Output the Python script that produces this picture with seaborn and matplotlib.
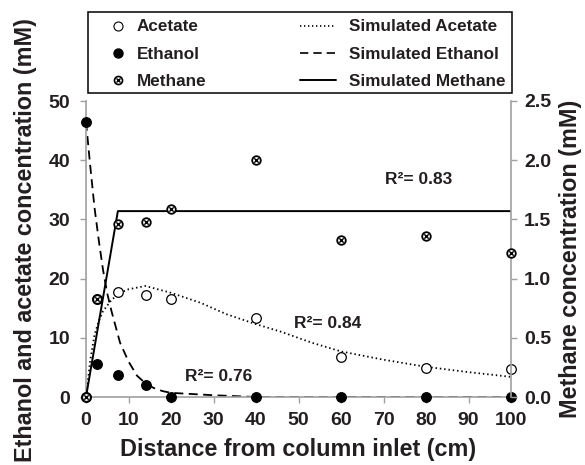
import matplotlib
matplotlib.use("Agg")
import matplotlib.pyplot as plt
import seaborn as sns
from matplotlib.lines import Line2D
from matplotlib.patches import Rectangle
from matplotlib.legend_handler import HandlerTuple

# ---- data ----
dist = [0, 2.5, 7.5, 14, 20, 40, 60, 80, 100]
acetate = [0, 16.5, 17.7, 17.2, 16.5, 13.3, 6.8, 4.9, 4.7]
ethanol = [46.5, 5.6, 3.8, 2.0, 0, 0, 0, 0, 0]
methane = [0, 0.825, 1.46, 1.475, 1.59, 2.0, 1.33, 1.36, 1.22]

sim_ac_x = [0, 1, 2, 3, 4, 6, 8, 10, 14, 20, 27, 33, 40, 46, 53, 60, 70, 80, 90, 100]
sim_ac_y = [0, 6.2, 10.5, 12.8, 14.5, 16.4, 17.6, 18.2, 18.75, 17.6, 15.9, 14.0, 12.3, 11.0, 9.2, 7.7, 6.3, 5.1, 4.2, 3.4]

sim_et_x = [0, 1, 2, 3, 4, 5, 6, 8, 10, 12, 14, 16, 18, 20, 25, 30, 40, 60, 80, 100]
sim_et_y = [46.5, 39, 32, 26.5, 21.5, 17.5, 14.5, 9.2, 6.0, 3.6, 2.3, 1.5, 1.0, 0.7, 0.5, 0.3, 0, 0, 0, 0]

sim_me_x = [0, 7.5, 100]
sim_me_y = [0, 1.57, 1.57]

r2_labels = ["R\u00b2= 0.83", "R\u00b2= 0.84", "R\u00b2= 0.76"]
r2_pos = [(78.2, 36.8), (56.9, 12.4), (31.3, 3.4)]

sns.set_theme(style="white")
plt.rcParams['font.family'] = ['Liberation Sans', 'DejaVu Sans']
plt.rcParams['font.weight'] = 'bold'

fig = plt.figure(figsize=(5.85, 4.65), dpi=100)
ax = fig.add_axes([86/585, 1-397/465, 425/585, 296/465])
ax2 = ax.twinx()

spine_c = '#a0a0a0'
txt_c = '#231f20'
lw = 1.3

# simulated lines
sns.lineplot(x=sim_ac_x, y=sim_ac_y, ax=ax, color='black', lw=lw, estimator=None, sort=False)
ax.lines[-1].set_dashes([0.8, 1.6])
sns.lineplot(x=sim_et_x, y=sim_et_y, ax=ax, color='black', lw=lw, estimator=None, sort=False)
ax.lines[-1].set_dashes([5, 3])
sns.lineplot(x=sim_me_x, y=sim_me_y, ax=ax2, color='black', lw=1.4, estimator=None, sort=False)

ms = 48
sns.scatterplot(x=dist, y=acetate, ax=ax, marker='o', s=ms, facecolor='white',
                edgecolor='black', linewidth=0.9, zorder=5, clip_on=False)
sns.scatterplot(x=dist, y=ethanol, ax=ax, marker='o', s=ms, color='black',
                edgecolor='black', linewidth=0.9, zorder=5, clip_on=False)
sns.scatterplot(x=dist, y=methane, ax=ax2, marker='o', s=38, facecolor='white',
                edgecolor='black', linewidth=1.3, zorder=5, clip_on=False)
sns.scatterplot(x=dist, y=methane, ax=ax2, marker='x', s=10, color='black',
                linewidth=1.0, zorder=6, clip_on=False)

for (tx, ty), lab in zip(r2_pos, r2_labels):
    ax.text(tx, ty, lab, ha='center', va='center', fontsize=12.5, fontweight='bold', color=txt_c)

ax.set_xlim(0, 100)
ax.set_ylim(0, 50)
ax2.set_ylim(0, 2.5)
ax.set_xticks(range(0, 101, 10))
ax.set_yticks(range(0, 51, 10))
ax2.set_yticks([0, 0.5, 1.0, 1.5, 2.0, 2.5])
ax2.set_yticklabels(['0.0', '0.5', '1.0', '1.5', '2.0', '2.5'])

for a in (ax, ax2):
    for s in a.spines.values():
        s.set_color(spine_c)
        s.set_linewidth(1.2)
    a.spines['top'].set_visible(False)
ax.spines['right'].set_visible(False)
ax2.spines['left'].set_visible(False)
ax2.spines['bottom'].set_visible(False)

ax.tick_params(axis='x', direction='out', length=4, width=1, color=spine_c, pad=6.5,
               labelsize=14, labelcolor=txt_c, bottom=True)
ax.tick_params(axis='y', direction='out', length=4, width=1, color=spine_c, pad=7.5,
               labelsize=14, labelcolor=txt_c, left=True)
ax2.tick_params(axis='y', direction='out', length=4, width=1, color=spine_c, pad=5.5,
                labelsize=14, labelcolor=txt_c, right=True)
for lab in ax.get_xticklabels() + ax.get_yticklabels() + ax2.get_yticklabels():
    lab.set_fontweight('bold')

lab_fs = 16.8
ax.set_xlabel("Distance from column inlet (cm)", fontsize=lab_fs, fontweight='bold', color=txt_c, labelpad=7)
ax.set_ylabel("Ethanol and acetate concentration (mM)", fontsize=lab_fs, fontweight='bold', color=txt_c)
ax2.set_ylabel("Methane concentration (mM)", fontsize=lab_fs, fontweight='bold', color=txt_c)
ax.yaxis.set_label_coords(-0.1162, 0.530)
ax2.yaxis.set_label_coords(1.113, 0.468)

# legends
h_ac = Line2D([], [], marker='o', ls='none', markersize=6.5, markerfacecolor='white',
              markeredgecolor='black', markeredgewidth=0.8)
h_et = Line2D([], [], marker='o', ls='none', markersize=6.5, markerfacecolor='black',
              markeredgecolor='black')
h_me1 = Line2D([], [], marker='o', ls='none', markersize=5.8, markerfacecolor='white',
               markeredgecolor='black', markeredgewidth=1.2)
h_me2 = Line2D([], [], marker='x', ls='none', markersize=2.6, markeredgecolor='black',
               markeredgewidth=1.0)
leg_fs = 12.3
leg1 = fig.legend([h_ac, h_et, (h_me1, h_me2)], ['Acetate', 'Ethanol', 'Methane'],
                  loc='upper left', bbox_to_anchor=(109/585, 1-19.5/465),
                  frameon=False, handlelength=1.0, handletextpad=0.64, borderpad=0,
                  borderaxespad=0, labelspacing=0.72, fontsize=leg_fs,
                  handler_map={tuple: HandlerTuple(ndivide=1, pad=0)})
h_sa = Line2D([], [], color='black', lw=1.2, dashes=[0.8, 1.6])
h_se = Line2D([], [], color='black', lw=1.2, dashes=[5, 3])
h_sm = Line2D([], [], color='black', lw=1.4)
leg2 = fig.legend([h_sa, h_se, h_sm], ['Simulated Acetate', 'Simulated Ethanol', 'Simulated Methane'],
                  loc='upper left', bbox_to_anchor=(300/585, 1-19.5/465),
                  frameon=False, handlelength=2.1, handletextpad=0.78, borderpad=0,
                  borderaxespad=0, labelspacing=0.72, fontsize=leg_fs)
for lg in (leg1, leg2):
    for t in lg.get_texts():
        t.set_fontweight('bold')
        t.set_color(txt_c)

fig.add_artist(Rectangle((88.3/585, 1-92.7/465), (511.7-88.3)/585, (92.7-11.7)/465,
                         transform=fig.transFigure, fill=False, edgecolor='black', lw=1.1))

fig.savefig("out.png", dpi=100)
